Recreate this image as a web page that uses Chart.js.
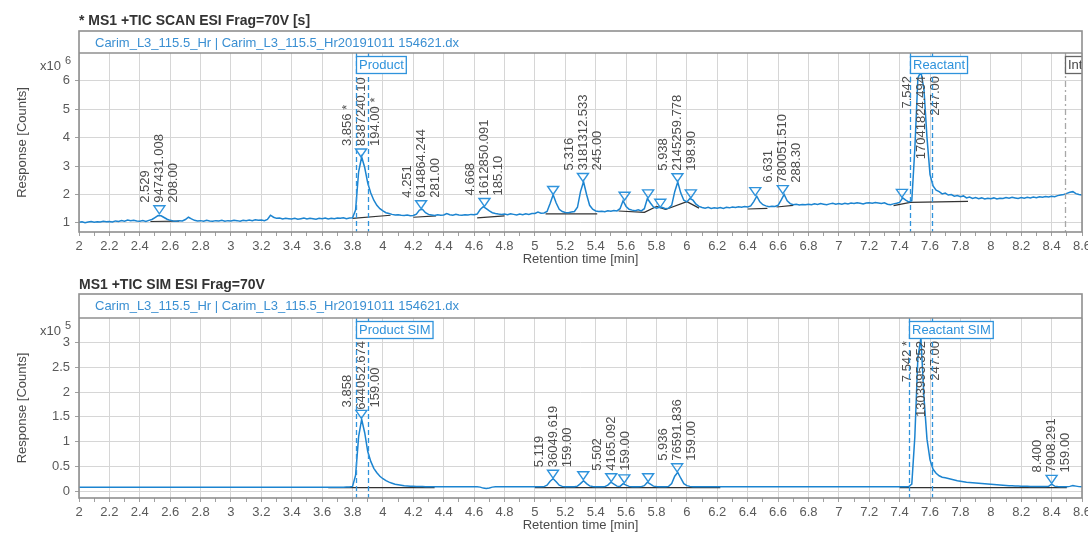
<!DOCTYPE html>
<html>
<head>
<meta charset="utf-8">
<title>MS1 TIC chromatograms</title>
<script src="https://cdn.jsdelivr.net/npm/chart.js@4.4.1/dist/chart.umd.min.js"></script>
<style>
  html, body { margin: 0; padding: 0; background: #fff; }
  #wrap { position: relative; width: 1088px; height: 533px; overflow: hidden; }
  canvas { position: absolute; left: 0; }
</style>
</head>
<body>
<div id="wrap">
  <canvas id="scan" width="1088" height="266" style="top:0"></canvas>
  <canvas id="sim" width="1088" height="266" style="top:266px"></canvas>
</div>
<script>
// ---- axis labels -------------------------------------------------------
const xTickLabels = ['2','2.2','2.4','2.6','2.8','3','3.2','3.4','3.6','3.8','4','4.2','4.4','4.6','4.8',
  '5','5.2','5.4','5.6','5.8','6','6.2','6.4','6.6','6.8','7','7.2','7.4','7.6','7.8','8','8.2','8.4','8.6'];
const scanYTicks = ['1','2','3','4','5','6'];
const simYTicks = ['0','0.5','1','1.5','2','2.5','3'];

// acquisition grid: one sample every 0.02 min from 2.00 min
const sampleStart = 2.0;
const sampleStep = 0.02;

// ---- TIC SCAN trace (x10^6 counts) ----------------------------------------
const scanResponse = [
  1.02,1.04,1.01,1.03,1.05,1.02,1.04,1.03,1.06,1.04, // 2.00
  1.05,1.03,1.07,1.05,1.08,1.06,1.10,1.08,1.09,1.07, // 2.20
  1.06,1.08,1.05,1.09,1.12,1.19,1.26,1.25,1.19,1.13, // 2.40
  1.09,1.07,1.06,1.08,1.07,1.12,1.20,1.14,1.09,1.07, // 2.60
  1.08,1.06,1.09,1.07,1.06,1.08,1.07,1.09,1.06,1.08, // 2.80
  1.07,1.09,1.08,1.06,1.09,1.08,1.10,1.08,1.11,1.09, // 3.00
  1.10,1.08,1.12,1.27,1.20,1.16,1.17,1.14,1.16,1.15, // 3.20
  1.14,1.16,1.13,1.15,1.17,1.14,1.16,1.15,1.13,1.16, // 3.40
  1.15,1.17,1.14,1.16,1.15,1.17,1.16,1.18,1.15,1.17, // 3.60
  1.18,1.45,2.80,3.32,2.95,2.40,2.05,1.80,1.62,1.50, // 3.80
  1.42,1.36,1.33,1.30,1.28,1.29,1.27,1.26,1.28,1.25, // 4.00
  1.26,1.31,1.45,1.48,1.36,1.30,1.28,1.26,1.29,1.27, // 4.20
  1.28,1.33,1.29,1.27,1.30,1.28,1.27,1.29,1.28,1.30, // 4.40
  1.29,1.31,1.47,1.57,1.50,1.42,1.36,1.33,1.31,1.30, // 4.60
  1.31,1.29,1.32,1.30,1.28,1.31,1.29,1.32,1.30,1.33, // 4.80
  1.33,1.38,1.34,1.35,1.40,1.68,1.99,1.70,1.48,1.40, // 5.00
  1.37,1.36,1.38,1.40,1.55,2.10,2.45,2.00,1.62,1.48, // 5.20
  1.42,1.40,1.41,1.39,1.43,1.41,1.44,1.42,1.50,1.78, // 5.40
  1.58,1.48,1.45,1.43,1.46,1.42,1.50,1.86,1.70,1.56, // 5.60
  1.52,1.55,1.54,1.50,1.52,1.62,2.10,2.44,2.05,1.80, // 5.80
  1.74,1.86,1.80,1.66,1.58,1.54,1.52,1.55,1.51,1.53, // 6.00
  1.52,1.54,1.51,1.55,1.53,1.56,1.54,1.57,1.55,1.58, // 6.20
  1.56,1.60,1.75,1.94,1.74,1.64,1.60,1.57,1.59,1.58, // 6.40
  1.62,1.80,2.00,1.78,1.68,1.64,1.66,1.63,1.65,1.64, // 6.60
  1.66,1.64,1.67,1.65,1.68,1.66,1.64,1.67,1.69,1.66, // 6.80
  1.68,1.66,1.69,1.67,1.70,1.68,1.71,1.69,1.67,1.70, // 7.00
  1.71,1.69,1.72,1.70,1.68,1.71,1.66,1.64,1.67,1.69, // 7.20
  1.72,1.88,1.80,1.74,1.78,3.60,6.10,6.32,5.70,4.00, // 7.40
  2.70,2.30,2.15,2.10,2.02,2.05,1.98,2.00,1.94,1.96, // 7.60
  1.92,1.95,1.88,1.91,1.86,1.89,1.85,1.88,1.84,1.87, // 7.80
  1.85,1.88,1.84,1.87,1.86,1.89,1.87,1.90,1.88,1.86, // 8.00
  1.89,1.87,1.90,1.88,1.91,1.89,1.92,1.90,1.93,1.91, // 8.20
  1.94,1.92,1.96,1.98,2.00,2.04,2.08,2.10,2.03,2.00, // 8.40
  1.98                                               // 8.60
];

// integration baselines [t0, y0, t1, y1]
const scanBaselines = [
  [2.47,1.05,2.66,1.06], [3.80,1.16,4.05,1.27], [4.20,1.20,4.35,1.25], [4.62,1.18,4.80,1.25],
  [5.07,1.32,5.23,1.32], [5.23,1.32,5.41,1.32], [5.55,1.42,5.72,1.37], [5.72,1.37,5.80,1.58],
  [5.80,1.58,5.86,1.47], [5.86,1.47,6.00,1.75], [6.00,1.75,6.08,1.52], [6.40,1.49,6.53,1.51],
  [6.59,1.56,6.70,1.62], [7.36,1.61,7.47,1.72], [7.47,1.72,7.85,1.76]
];

const scanPeakTimes   = [2.529, 3.856, 4.251, 4.668, 5.12, 5.316, 5.59, 5.745, 5.825, 5.938, 6.026, 6.45, 6.631, 7.415, 7.542];
const scanPeakHeights = [1.32,  3.32,  1.50,  1.58,  2.00, 2.46,  1.80, 1.88,  1.55,  2.45,  1.88,  1.96, 2.03,  1.90,  6.32];
const scanPeakLabels  = [
  ['2.529','947431.008','208.00'],
  ['3.856 *','8387240.10','194.00 *'],
  ['4.251','614864.244','281.00'],
  ['4.668','1612850.091','185.10'],
  null,
  ['5.316','3181312.533','245.00'],
  null, null, null,
  ['5.938','2145259.778','198.90'],
  null, null,
  ['6.631','780051.510','288.30'],
  null,
  ['7.542','17041824.494','247.00']
];
const scanWindows = [[3.82, 3.903, 'Product'], [7.465, 7.61, 'Reactant']];
const scanMarkers = [[8.49, 'Int']];

// ---- TIC SIM trace (x10^5 counts) ----------------------------------------
const simResponse = [
  0.075,0.075,0.075,0.075,0.075,0.075,0.075,0.075,0.075,0.075, // 2.00
  0.075,0.075,0.075,0.075,0.075,0.075,0.075,0.075,0.075,0.075, // 2.20
  0.076,0.076,0.076,0.076,0.076,0.076,0.076,0.076,0.076,0.076, // 2.40
  0.076,0.076,0.076,0.076,0.076,0.076,0.076,0.076,0.076,0.076, // 2.60
  0.077,0.077,0.077,0.077,0.077,0.077,0.077,0.077,0.077,0.077, // 2.80
  0.077,0.077,0.077,0.077,0.077,0.077,0.077,0.077,0.077,0.077, // 3.00
  0.078,0.078,0.078,0.078,0.078,0.078,0.078,0.078,0.078,0.078, // 3.20
  0.078,0.078,0.078,0.078,0.078,0.078,0.078,0.078,0.078,0.078, // 3.40
  0.079,0.079,0.079,0.079,0.079,0.079,0.079,0.079,0.080,0.082, // 3.60
  0.095,0.320,1.100,1.450,1.180,0.800,0.600,0.460,0.370,0.300, // 3.80
  0.250,0.210,0.180,0.160,0.140,0.130,0.120,0.110,0.105,0.100, // 4.00
  0.098,0.095,0.093,0.092,0.090,0.090,0.089,0.088,0.088,0.087, // 4.20
  0.087,0.086,0.086,0.086,0.085,0.085,0.085,0.085,0.085,0.085, // 4.40
  0.085,0.085,0.080,0.060,0.050,0.062,0.080,0.085,0.085,0.085, // 4.60
  0.085,0.085,0.085,0.085,0.085,0.085,0.085,0.085,0.085,0.085, // 4.80
  0.085,0.085,0.086,0.090,0.120,0.200,0.250,0.190,0.120,0.095, // 5.00
  0.090,0.088,0.087,0.088,0.100,0.150,0.210,0.150,0.105,0.092, // 5.20
  0.088,0.087,0.087,0.090,0.120,0.180,0.140,0.100,0.095,0.150, // 5.40
  0.120,0.095,0.088,0.087,0.087,0.090,0.110,0.180,0.140,0.100, // 5.60
  0.092,0.088,0.087,0.088,0.095,0.150,0.300,0.380,0.260,0.150, // 5.80
  0.110,0.095,0.090,0.088,0.087,0.086,0.086,0.086,0.086,0.086, // 6.00
  0.086,0.086,0.086,0.086,0.086,0.086,0.086,0.086,0.086,0.086, // 6.20
  0.086,0.086,0.086,0.086,0.086,0.086,0.086,0.086,0.086,0.086, // 6.40
  0.087,0.087,0.087,0.087,0.087,0.087,0.087,0.087,0.087,0.087, // 6.60
  0.087,0.087,0.087,0.087,0.087,0.087,0.087,0.087,0.087,0.087, // 6.80
  0.087,0.087,0.087,0.087,0.087,0.087,0.087,0.087,0.087,0.087, // 7.00
  0.088,0.088,0.088,0.088,0.088,0.088,0.088,0.088,0.088,0.088, // 7.20
  0.088,0.088,0.088,0.090,0.140,1.100,2.700,3.100,1.900,1.050, // 7.40
  0.630,0.440,0.360,0.310,0.280,0.270,0.255,0.240,0.225,0.210, // 7.60
  0.200,0.190,0.180,0.175,0.170,0.165,0.160,0.155,0.150,0.145, // 7.80
  0.140,0.135,0.130,0.125,0.120,0.115,0.110,0.108,0.105,0.102, // 8.00
  0.100,0.098,0.096,0.095,0.094,0.093,0.092,0.092,0.091,0.095, // 8.20
  0.140,0.100,0.092,0.090,0.090,0.090,0.095,0.110,0.100,0.090, // 8.40
  0.088                                                        // 8.60
];

const simBaselines = [
  [3.64,0.07,4.34,0.07], [5.00,0.07,5.45,0.07], [5.45,0.07,6.22,0.07], [7.40,0.07,8.50,0.07]
];

const simPeakTimes   = [3.858, 5.119, 5.318, 5.502, 5.588, 5.745, 5.936, 7.542, 8.400];
const simPeakHeights = [1.47,  0.26,  0.23,  0.19,  0.165, 0.19,  0.39,  3.12,  0.155];
const simPeakLabels  = [
  ['3.858','644052.674','159.00'],
  ['5.119','36049.619','159.00'],
  null,
  ['5.502','4165.092','159.00'],
  null, null,
  ['5.936','76591.836','159.00'],
  ['7.542 *','1303995.352','247.00'],
  ['8.400','7908.291','159.00']
];
const simWindows = [[3.82, 3.90, 'Product SIM'], [7.46, 7.61, 'Reactant SIM']];
const simMarkers = [];

// ---- drawing ------------------------------------------------------------
const FONT = '"Liberation Sans", Arial, Helvetica, sans-serif';
const TRACE = '#1c84d0';
const ACCENT = '#2f93dc';
Chart.defaults.font.family = FONT;

function traceData(values) {
  return values.map((v, i) => ({ x: +(sampleStart + i * sampleStep).toFixed(2), y: v }));
}
function segmentData(segs) {
  const out = [];
  segs.forEach(s => { out.push({ x: s[0], y: s[1] }, { x: s[2], y: s[3] }, { x: s[2], y: null }); });
  return out;
}

function decorPlugin(p) {
  const TRI_W = 11, TRI_H = 8;
  return {
    id: 'decor',
    afterDatasetsDraw(chart) {
      const { ctx, chartArea: ca, scales: { x, y } } = chart;
      ctx.save();
      ctx.beginPath();
      ctx.rect(ca.left, ca.top, ca.right - ca.left, ca.bottom - ca.top);
      ctx.clip();

      // peak apex markers
      ctx.strokeStyle = ACCENT;
      ctx.lineWidth = 1.4;
      p.peakTimes.forEach((t, i) => {
        const px = x.getPixelForValue(t), py = y.getPixelForValue(p.peakHeights[i]);
        ctx.beginPath();
        ctx.moveTo(px, py);
        ctx.lineTo(px - TRI_W / 2, py - TRI_H);
        ctx.lineTo(px + TRI_W / 2, py - TRI_H);
        ctx.closePath();
        ctx.stroke();
      });

      // peak annotations: RT, area, m/z written bottom-to-top
      ctx.font = '13px ' + FONT;
      ctx.fillStyle = '#4d4d4d';
      ctx.textAlign = 'left';
      ctx.textBaseline = 'middle';
      const clampTop = ca.top + 23;
      p.peakTimes.forEach((t, i) => {
        const lines = p.peakLabels[i];
        if (!lines) return;
        const px = x.getPixelForValue(t), py = y.getPixelForValue(p.peakHeights[i]);
        lines.forEach((s, k) => {
          const w = ctx.measureText(s).width;
          const sy = Math.max(py - TRI_H - 3, clampTop + w);
          ctx.save();
          ctx.translate(px + (k - 1) * 14, sy);
          ctx.rotate(-Math.PI / 2);
          ctx.fillText(s, 0, 0);
          ctx.restore();
        });
      });

      // extraction windows
      ctx.lineWidth = 1.3;
      p.windows.forEach(([t1, t2]) => {
        ctx.strokeStyle = ACCENT;
        ctx.setLineDash([5, 3]);
        [t1, t2].forEach(t => {
          const lx = Math.round(x.getPixelForValue(t)) + 0.5;
          ctx.beginPath(); ctx.moveTo(lx, ca.top); ctx.lineTo(lx, ca.bottom); ctx.stroke();
        });
      });
      p.markers.forEach(([t]) => {
        ctx.strokeStyle = '#a8a8a8';
        ctx.setLineDash([6, 3, 2, 3]);
        const lx = Math.round(x.getPixelForValue(t)) + 0.5;
        ctx.beginPath(); ctx.moveTo(lx, ca.top); ctx.lineTo(lx, ca.bottom); ctx.stroke();
      });
      ctx.setLineDash([]);

      const drawTag = (t, text, stroke, color) => {
        const lx = Math.round(x.getPixelForValue(t)) + 0.5;
        const w = ctx.measureText(text).width + 5;
        const top = ca.top + 3.5, h = 17;
        ctx.fillStyle = '#fff';
        ctx.fillRect(lx, top, w, h);
        ctx.strokeStyle = stroke;
        ctx.lineWidth = 1.3;
        ctx.strokeRect(lx, top, w, h);
        ctx.fillStyle = color;
        ctx.textBaseline = 'middle';
        ctx.fillText(text, lx + 2.5, top + h / 2 + 0.5);
      };
      ctx.font = '13px ' + FONT;
      p.windows.forEach(([t1, , text]) => drawTag(t1, text, ACCENT, ACCENT));
      p.markers.forEach(([t, text]) => drawTag(t, text, '#666', '#444'));
      ctx.restore();
    },
    afterDraw(chart) {
      const { ctx, chartArea: ca } = chart;
      ctx.save();
      // panel frame with the file header strip
      ctx.strokeStyle = '#8f8f8f';
      ctx.lineWidth = 1.6;
      ctx.strokeRect(ca.left, p.frameTop, ca.right - ca.left, ca.bottom - p.frameTop);
      ctx.beginPath(); ctx.moveTo(ca.left, ca.top); ctx.lineTo(ca.right, ca.top); ctx.stroke();

      ctx.textAlign = 'left';
      ctx.textBaseline = 'middle';
      ctx.fillStyle = '#3a8fd2';
      ctx.font = '13px ' + FONT;
      ctx.fillText('Carim_L3_115.5_Hr | Carim_L3_115.5_Hr20191011 154621.dx', 95, p.frameTop + 12);

      ctx.fillStyle = '#333';
      ctx.font = 'bold 14px ' + FONT;
      ctx.fillText(p.title, 79, p.titleY);

      // exponent of the response axis
      ctx.fillStyle = '#555';
      ctx.font = '13px ' + FONT;
      ctx.fillText('x10', 40, ca.top + 13);
      ctx.font = '11px ' + FONT;
      ctx.fillText(p.exponent, 65, ca.top + 8);
      ctx.restore();
    }
  };
}

function buildPanel(id, p) {
  const xTickValues = [];
  xTickLabels.forEach((s, i) => {
    xTickValues.push(parseFloat(s));
    if (i < xTickLabels.length - 1) xTickValues.push(+(parseFloat(s) + 0.1).toFixed(1));
  });
  new Chart(document.getElementById(id), {
    type: 'line',
    data: {
      datasets: [
        { data: traceData(p.values), borderColor: TRACE, borderWidth: 1.5, pointRadius: 0, tension: 0, fill: false },
        { data: segmentData(p.baselines), borderColor: '#333333', borderWidth: 1.2, pointRadius: 0, tension: 0, spanGaps: false, fill: false }
      ]
    },
    options: {
      responsive: false,
      animation: false,
      devicePixelRatio: 1,
      layout: { padding: { top: p.plotTop, right: 6, bottom: 0, left: 0 } },
      plugins: { legend: { display: false }, tooltip: { enabled: false }, title: { display: false } },
      scales: {
        x: {
          type: 'linear', min: 2, max: 8.6,
          afterBuildTicks: axis => { axis.ticks = xTickValues.map(v => ({ value: v })); },
          afterFit: axis => { axis.height = 34; axis.paddingLeft = 0; axis.paddingRight = 0; },
          ticks: {
            autoSkip: false, maxRotation: 0, minRotation: 0, padding: 3,
            color: '#5a5a5a', font: { size: 13 },
            callback: (v, i) => (i % 2 === 0 ? xTickLabels[i / 2] : '')
          },
          grid: {
            color: c => (c.index % 2 === 0 ? '#d6d6d6' : 'rgba(0,0,0,0)'),
            tickColor: '#a0a0a0', tickLength: 4, drawTicks: true
          },
          border: { display: false },
          title: { display: true, text: 'Retention time [min]', color: '#4a4a4a',
                   font: { size: 13, lineHeight: 1 }, padding: { top: 0, bottom: 0 } }
        },
        y: {
          type: 'linear', min: p.yMin, max: p.yMax,
          afterBuildTicks: axis => { axis.ticks = p.yTicks.map(s => ({ value: parseFloat(s) })); },
          afterFit: axis => { axis.width = 79; axis.paddingTop = 0; axis.paddingBottom = 0; },
          ticks: { padding: 5, color: '#5a5a5a', font: { size: 13 }, callback: (v, i) => p.yTicks[i] },
          grid: { color: '#d6d6d6', tickColor: '#a0a0a0', tickLength: 4 },
          border: { display: false },
          title: { display: true, text: 'Response [Counts]', color: '#4a4a4a',
                   font: { size: 13, lineHeight: 1 }, padding: { top: 16, bottom: 0 } }
        }
      }
    },
    plugins: [decorPlugin(p)]
  });
}

buildPanel('scan', {
  title: '* MS1 +TIC SCAN ESI Frag=70V [s]', titleY: 21, frameTop: 31, plotTop: 53, exponent: '6',
  yMin: 0.68, yMax: 6.98, yTicks: scanYTicks, values: scanResponse, baselines: scanBaselines,
  peakTimes: scanPeakTimes, peakHeights: scanPeakHeights, peakLabels: scanPeakLabels,
  windows: scanWindows, markers: scanMarkers
});
buildPanel('sim', {
  title: 'MS1 +TIC SIM ESI Frag=70V', titleY: 19, frameTop: 28, plotTop: 52, exponent: '5',
  yMin: -0.14, yMax: 3.5, yTicks: simYTicks, values: simResponse, baselines: simBaselines,
  peakTimes: simPeakTimes, peakHeights: simPeakHeights, peakLabels: simPeakLabels,
  windows: simWindows, markers: simMarkers
});
</script>
</body>
</html>
